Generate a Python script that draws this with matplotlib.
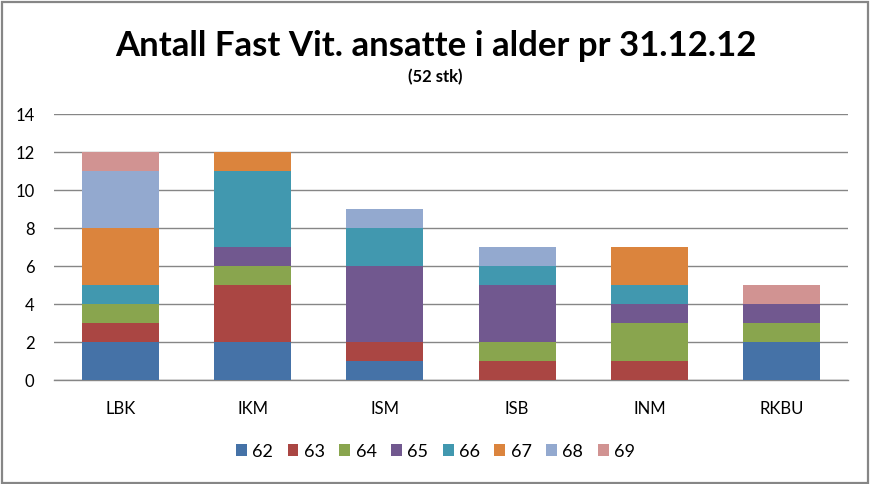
"""
Stacked bar chart: Antall Fast Vit. ansatte i alder pr 31.12.12
"""

import matplotlib.pyplot as plt
import numpy as np

categories = ['LBK', 'IKM', 'ISM', 'ISB', 'INM', 'RKBU']
ages = ['62', '63', '64', '65', '66', '67', '68', '69']

# counts per age, one list per age in category order
age_62 = [2, 2, 1, 0, 0, 2]
age_63 = [1, 3, 1, 1, 1, 0]
age_64 = [1, 1, 0, 1, 2, 1]
age_65 = [0, 1, 4, 3, 1, 1]
age_66 = [1, 4, 2, 1, 1, 0]
age_67 = [3, 1, 0, 0, 2, 0]
age_68 = [3, 0, 1, 1, 0, 0]
age_69 = [1, 0, 0, 0, 0, 1]

series = [age_62, age_63, age_64, age_65, age_66, age_67, age_68, age_69]
colors = ['#4572A7', '#AA4643', '#89A54E', '#71588F',
          '#4198AF', '#DB843D', '#93A9CF', '#D19392']

plt.rcParams['font.family'] = ['Lato', 'DejaVu Sans']

fig = plt.figure(figsize=(8.71, 4.84), dpi=100)
ax = fig.add_axes([0.062, 0.2142, 0.9116, 0.5496])

x = np.arange(len(categories))
bottom = np.zeros(len(categories))
for age, vals, col in zip(ages, series, colors):
    ax.bar(x, vals, 0.58, bottom=bottom, color=col, label=age, zorder=3)
    bottom += np.array(vals)

ax.set_xlim(-0.5, len(categories) - 0.5)
ax.set_ylim(0, 14)
ax.set_yticks(range(0, 15, 2))
ax.set_xticks(x)
ax.set_xticklabels(categories)
ax.tick_params(axis='y', labelsize=12, length=0, pad=14)
ax.tick_params(axis='x', labelsize=12, length=0, pad=15)
ax.grid(axis='y', color='#868686', linewidth=1.0, zorder=0)
for side in ['top', 'right', 'left']:
    ax.spines[side].set_visible(False)
ax.spines['bottom'].set_color('#868686')
ax.spines['bottom'].set_linewidth(1.0)

fig.text(0.5, 0.905, 'Antall Fast Vit. ansatte i alder pr 31.12.12',
         ha='center', va='center', fontsize=25, fontweight='bold')
fig.text(0.5, 0.84, '(52 stk)', ha='center', va='center',
         fontsize=12, fontweight='bold')

fig.legend(loc='center', bbox_to_anchor=(0.5, 0.067), ncol=8, frameon=False,
           fontsize=13, handlelength=0.6, handleheight=0.6,
           columnspacing=0.8, handletextpad=0.3)

# outer chart border
fig.patches.append(plt.Rectangle((0.002, 0.003), 0.995, 0.993,
                                 transform=fig.transFigure, fill=False,
                                 edgecolor='#868686', linewidth=1.6))

plt.savefig('out.png', dpi=100)
